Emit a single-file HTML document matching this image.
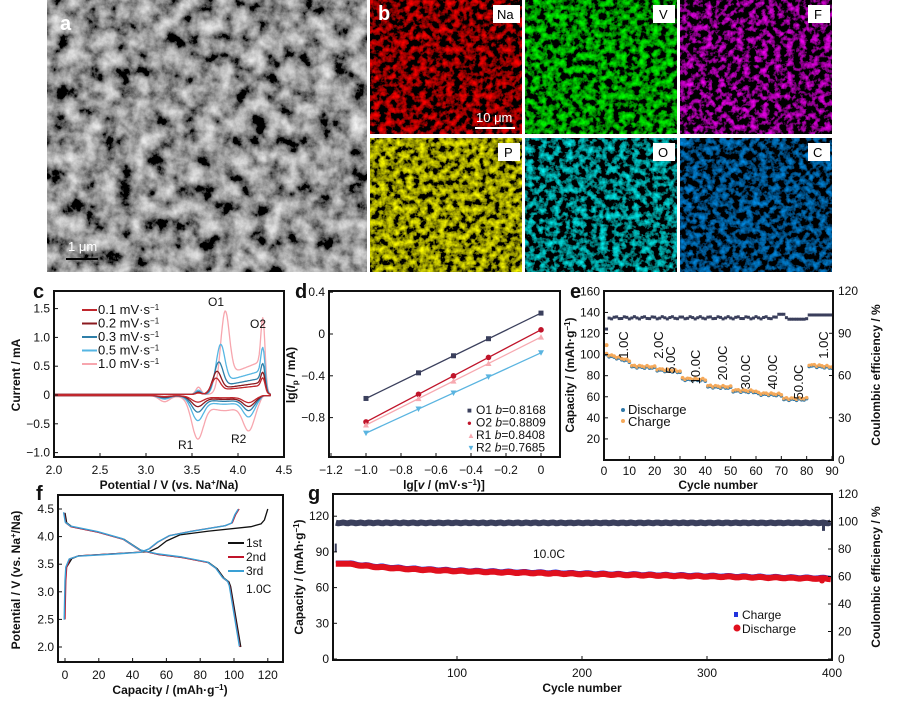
<!DOCTYPE html>
<html><head><meta charset="utf-8"><style>
body{margin:0;background:#fff}
svg{display:block;font-family:"Liberation Sans",Arial,sans-serif}
.t{font-size:12px;fill:#111}
.b{font-weight:bold;font-size:12px;fill:#111}
.L{font-weight:bold;font-size:20px;fill:#111}
</style></head><body>
<svg id="s" width="899" height="710" viewBox="0 0 899 710" xmlns="http://www.w3.org/2000/svg">
<defs>
<filter id="sem" x="0" y="0" width="100%" height="100%">
<feTurbulence type="fractalNoise" baseFrequency="0.06" numOctaves="5" seed="3"/>
<feColorMatrix type="matrix" values="1.4 0 0 0 -0.4  1.4 0 0 0 -0.4  1.4 0 0 0 -0.4  0 0 0 0 1"/>
</filter>
<filter id="fR" x="0" y="0" width="100%" height="100%"><feTurbulence type="fractalNoise" baseFrequency="0.15" numOctaves="3" seed="1"/><feColorMatrix type="matrix" values="2.4 0 0 0 -1.0  0 0 0 0 0  0 0 0 0 0  0 0 0 0 1"/></filter>
<filter id="fG" x="0" y="0" width="100%" height="100%"><feTurbulence type="fractalNoise" baseFrequency="0.15" numOctaves="3" seed="2"/><feColorMatrix type="matrix" values="0 0 0 0 0  2.2 0 0 0 -0.85  0 0 0 0 0  0 0 0 0 1"/></filter>
<filter id="fM" x="0" y="0" width="100%" height="100%"><feTurbulence type="fractalNoise" baseFrequency="0.16" numOctaves="3" seed="4"/><feColorMatrix type="matrix" values="2.2 0 0 0 -1.0  0 0 0 0 0  2.2 0 0 0 -1.0  0 0 0 0 1"/></filter>
<filter id="fY" x="0" y="0" width="100%" height="100%"><feTurbulence type="fractalNoise" baseFrequency="0.15" numOctaves="3" seed="5"/><feColorMatrix type="matrix" values="2.0 0 0 0 -0.7  2.0 0 0 0 -0.7  0 0 0 0 0  0 0 0 0 1"/></filter>
<filter id="fC" x="0" y="0" width="100%" height="100%"><feTurbulence type="fractalNoise" baseFrequency="0.15" numOctaves="3" seed="6"/><feColorMatrix type="matrix" values="0 0 0 0 0  2.0 0 0 0 -0.85  2.0 0 0 0 -0.85  0 0 0 0 1"/></filter>
<filter id="fB" x="0" y="0" width="100%" height="100%"><feTurbulence type="fractalNoise" baseFrequency="0.15" numOctaves="3" seed="7"/><feColorMatrix type="matrix" values="0 0 0 0 0  0.6 0 0 0 -0.25  1.8 0 0 0 -0.75  0 0 0 0 1"/></filter>
</defs>
<rect x="47" y="0" width="320" height="272" filter="url(#sem)"/>
<text x="60" y="30" style="font-weight:bold;font-size:20px;fill:#fff">a</text>
<text x="68" y="251" style="font-size:13px;fill:#fff">1 μm</text>
<line x1="66" y1="259" x2="98" y2="259" stroke="#000" stroke-width="2"/>
<rect x="370" y="0" width="152" height="134" filter="url(#fR)"/>
<rect x="525" y="0" width="152" height="134" filter="url(#fG)"/>
<rect x="680" y="0" width="152" height="134" filter="url(#fM)"/>
<rect x="370" y="138" width="152" height="134" filter="url(#fY)"/>
<rect x="525" y="138" width="152" height="134" filter="url(#fC)"/>
<rect x="680" y="138" width="152" height="134" filter="url(#fB)"/>
<text x="378" y="20" style="font-weight:bold;font-size:20px;fill:#fff">b</text>
<g style="font-size:13px;fill:#000">
<rect x="493" y="5" width="27" height="18" fill="#fff"/><text x="497" y="19">Na</text>
<rect x="653" y="5" width="22" height="18" fill="#fff"/><text x="659" y="19">V</text>
<rect x="808" y="5" width="22" height="18" fill="#fff"/><text x="814" y="19">F</text>
<rect x="498" y="143" width="22" height="18" fill="#fff"/><text x="504" y="157">P</text>
<rect x="653" y="143" width="22" height="18" fill="#fff"/><text x="658" y="157">O</text>
<rect x="808" y="143" width="22" height="18" fill="#fff"/><text x="813" y="157">C</text>
</g>
<text x="476" y="122" style="font-size:13px;fill:#fff">10 μm</text>
<line x1="475" y1="128" x2="515" y2="128" stroke="#fff" stroke-width="2"/>
<g id="gg"></g>
</svg>
<script>
const GG=document.getElementById('gg');let h='';
function T(x,y,s,c,extra){h+=`<text x="${x}" y="${y}" class="${c||'t'}" ${extra||''}>${s}</text>`;}
function L(x1,y1,x2,y2,c,w){h+=`<line x1="${x1}" y1="${y1}" x2="${x2}" y2="${y2}" stroke="${c||'#111'}" stroke-width="${w||1}"/>`;}
function P(pts,c,w){h+=`<polyline fill="none" stroke="${c}" stroke-width="${w||1.2}" stroke-linejoin="round" points="${pts.map(p=>p[0].toFixed(1)+','+p[1].toFixed(1)).join(' ')}"/>`;}
function box(x1,y1,x2,y2){h+=`<rect x="${x1}" y="${y1}" width="${x2-x1}" height="${y2-y1}" fill="none" stroke="#111" stroke-width="2"/>`;}
function ga(v,m,s){const z=(v-m)/s;return Math.exp(-z*z);}
function sg(v,m,s){return 1/(1+Math.exp(-(v-m)/s));}
// ---------- panel c ----------
try{const X=v=>54+(v-2)/2.5*230,Y=i=>395-i*57.6;
 const sets=[[0.3,3.76,0.2,0.13,0.13,'#c0272d',0.12],[0.43,3.77,0.27,0.22,0.2,'#8b1a1f',0.16],[0.6,3.79,0.38,0.33,0.27,'#2f7fa8',0.22],[0.93,3.81,0.6,0.5,0.38,'#56b6e3',0.32],[1.58,3.86,1.1,0.87,0.62,'#f7a6ae',0.45]];
 sets.slice().reverse().forEach(([a1,p1,a2,r1,r2,c,pl])=>{
  let up=[],dn=[];
  for(let v=2.0;v<=4.35;v+=0.01){let env=sg(v,p1-0.08,0.025)*(1-sg(v,4.3,0.012));
   let i=0.01+a1*0.72*ga(v,p1,0.065)+pl*env*(0.85+1.4*(v-3.95))+a2*0.72*ga(v,4.27,0.03)+0.08*a1*ga(v,3.57,0.04);up.push([X(v),Y(i)]);}
  for(let v=4.35;v>=2.0;v-=0.01){let env=(1-sg(v,4.26,0.012));
   let i=-0.01-env*(r1*0.75*ga(v,3.56,0.09)+r2*0.8*ga(v,4.12,0.09)+0.3*r1*ga(v,3.85,0.3)+0.12*r1*ga(v,3.2,0.08));dn.push([X(v),Y(i)]);}
  P(up.concat(dn),c,1.3);
 });
 box(54,291,284,457);
 [2,2.5,3,3.5,4,4.5].forEach(v=>{L(X(v),457,X(v),453);T(X(v),474,v.toFixed(1),'t','text-anchor="middle"');});
 [[1.5,'1.5'],[1,'1.0'],[0.5,'0.5'],[0,'0'],[-0.5,'−0.5'],[-1,'−1.0']].forEach(([v,s])=>{L(54,Y(v),58,Y(v));T(50,Y(v)+4,s,'t','text-anchor="end"');});
 T(169,489,'Potential / V (vs. Na<tspan dy="-4" font-size="8">+</tspan><tspan dy="4">/Na)</tspan>','b','text-anchor="middle"');
 T(0,0,'Current / mA','b','text-anchor="middle" transform="translate(20,375) rotate(-90)"');
 T(33,298,'c','L');
 [['0.1','#c0272d'],['0.2','#8b1a1f'],['0.3','#2f7fa8'],['0.5','#56b6e3'],['1.0','#f7a6ae']].forEach(([s,c],k)=>{let y=314+k*13.5;L(82,y-4,97,y-4,c,2);h+=`<text x="98" y="${y}" style="font-size:13px;fill:#111">${s} mV·s<tspan dy="-4" font-size="8">−1</tspan></text>`;});
 T(208,306,'O1');T(250,328,'O2');T(178,449,'R1');T(231,443,'R2');
}catch(e){}
// ---------- panel d ----------
try{const X=v=>331+(v+1.2)*175,Y=v=>334-v*104.5;
 const S=[[0.8168,0.2,'#3a3f5c','s'],[0.8809,0.04,'#c0142a','c'],[0.8408,-0.03,'#f7a9b0','t'],[0.7685,-0.18,'#5ab4e0','v']];
 S.forEach(([m,b,c,k])=>{P([[X(-1),Y(b-m)],[X(0),Y(b)]],c,1.3);[-1,-0.7,-0.5,-0.3,0].forEach(x=>{let px=X(x),py=Y(m*x+b);
  if(k=='s')h+=`<rect x="${px-2.5}" y="${py-2.5}" width="5" height="5" fill="${c}"/>`;else if(k=='c')h+=`<circle cx="${px}" cy="${py}" r="2.8" fill="${c}"/>`;else if(k=='t')h+=`<path d="M${px} ${py-3}L${px+3} ${py+2.5}L${px-3} ${py+2.5}Z" fill="${c}"/>`;else h+=`<path d="M${px} ${py+3}L${px+3} ${py-2.5}L${px-3} ${py-2.5}Z" fill="${c}"/>`;});});
 box(329,291,560,457);
 [[-1.2,'−1.2'],[-1,'−1.0'],[-0.8,'−0.8'],[-0.6,'−0.6'],[-0.4,'−0.4'],[-0.2,'−0.2'],[0,'0']].forEach(([v,s])=>{L(X(v),457,X(v),453);T(X(v),474,s,'t','text-anchor="middle"');});
 [[0.4,'0.4'],[0,'0'],[-0.4,'−0.4'],[-0.8,'−0.8']].forEach(([v,s])=>{L(329,Y(v),333,Y(v));T(325,Y(v)+4,s,'t','text-anchor="end"');});
 T(444,489,'lg[<tspan font-style="italic">v</tspan> / (mV·s<tspan dy="-4" font-size="8">−1</tspan><tspan dy="4">)]</tspan>','b','text-anchor="middle"');
 T(0,0,'lg(<tspan font-style="italic">I</tspan><tspan dy="3" font-size="8">p</tspan><tspan dy="-3"> / mA)</tspan>','b','text-anchor="middle" transform="translate(295,375) rotate(-90)"');
 T(295,298,'d','L');
 [['■','#3a3f5c','O1','0.8168'],['●','#c0142a','O2','0.8809'],['▲','#f7a9b0','R1','0.8408'],['▼','#5ab4e0','R2','0.7685']].forEach(([mk,c,n,v],k)=>{let y=413+k*12.5;h+=`<text x="467" y="${y}" style="font-size:8px;fill:${c}">${mk}</text>`;T(476,y+1,n+' <tspan font-style="italic">b</tspan>='+v);});
}catch(e){}
// ---------- panel e ----------
try{const X=c=>604+c/90*228,Y=v=>460-v*1.054,YR=v=>460-v*1.408;
 const lv=[[1,10,100,94],[11,20,89,88],[21,30,86,84],[31,40,77,76],[41,50,70,69],[51,60,66,65],[61,70,63,62],[71,80,58,58],[81,90,90,88]];
 let ce='';for(let c=1;c<=90;c++){let v=101+Math.sin(c*1.7)*0.8;if(c>68&&c<72)v=103.5;if(c>72&&c<80)v=100;if(c>80)v=103;if(c==1)v=93;ce+=`<rect x="${X(c)-1.5}" y="${YR(v)-1.5}" width="3" height="3" fill="#3a3f5c"/>`;}
 let dc='';lv.forEach(([a,b,s,e])=>{for(let c=a;c<=b;c++){let v=s+(e-s)*(c-a)/(b-a)+Math.sin(c*2.3)*0.8;dc+=`<circle cx="${X(c)}" cy="${Y(v-0.6)}" r="1.8" fill="#2f78a8"/><circle cx="${X(c)}" cy="${Y(v+0.4)}" r="1.8" fill="#f5a95a"/>`;}});
 h+=ce+dc;h+=`<circle cx="${X(1)}" cy="${Y(109)}" r="2" fill="#f5a95a"/>`;
 box(604,291,833,460);
 [0,10,20,30,40,50,60,70,80,90].forEach(v=>{L(X(v),460,X(v),456);T(X(v),475,v,'t','text-anchor="middle"');});
 [20,40,60,80,100,120,140,160].forEach(v=>{L(604,Y(v),608,Y(v));T(600,Y(v)+4,v,'t','text-anchor="end"');});
 [0,30,60,90,120].forEach(v=>{L(833,YR(v),829,YR(v));T(838,YR(v)+4,v);});
 T(718,489,'Cycle number','b','text-anchor="middle"');
 T(0,0,'Capacity / (mAh·g<tspan dy="-4" font-size="8">−1</tspan><tspan dy="4">)</tspan>','b','text-anchor="middle" transform="translate(574,375) rotate(-90)"');
 T(0,0,'Coulombic efficiency / %','b','text-anchor="middle" transform="translate(880,375) rotate(-90)"');
 T(570,298,'e','L');
 [['1.0C',623,345],['2.0C',658,345],['5.0C',670,360],['10.0C',695,367],['20.0C',722,363],['30.0C',745,372],['40.0C',772,372],['50.0C',798,382],['1.0C',823,345]].forEach(([s,x,y])=>h+=`<text transform="translate(${x+5},${y}) rotate(-90)" text-anchor="middle" style="font-size:13px;fill:#111">${s}</text>`);
 h+=`<circle cx="623" cy="410" r="2" fill="#2f78a8"/><circle cx="623" cy="421" r="2" fill="#f5a95a"/>`;
 h+=`<text x="628" y="414" style="font-size:13px;fill:#111">Discharge</text><text x="628" y="426" style="font-size:13px;fill:#111">Charge</text>`;
}catch(e){}
// ---------- panel f ----------
try{const X=c=>65+c*1.69,Y=v=>647-(v-2)*55.2;
 const ch2=[[0,2.5],[0.5,3.2],[1,3.45],[3,3.6],[8,3.65],[30,3.69],[45,3.72],[50,3.78],[55,3.9],[62,4.02],[75,4.1],[95,4.2],[99,4.25],[101,4.4],[103,4.5]];
 const ch1=[[1,3.45],[4,3.6],[8,3.65],[30,3.69],[50,3.73],[55,3.8],[60,3.92],[68,4.03],[85,4.1],[110,4.18],[116,4.23],[118,4.3],[120,4.5]];
 const dis=[[0,4.43],[1,4.25],[4,4.18],[20,4.08],[35,3.95],[45,3.75],[55,3.68],[70,3.62],[85,3.53],[90,3.42],[94,3.25],[97,3.18],[98,3.1],[104,2.0]];
 const m=a=>a.map(([c,v])=>[X(c),Y(v)]);
 P(m(ch1),'#111',1.3);P(m(dis),'#111',1.3);P(m(ch2),'#c0142a',1.3);P(m(dis.map(([c,v])=>[c-0.5,v])),'#c0142a',1.3);
 P(m(ch2.map(([c,v])=>[c-0.5,v-0.005])),'#3aa0d5',1.4);P(m(dis.map(([c,v])=>[c-0.8,v+0.01])),'#3aa0d5',1.4);
 box(58,495,283,662);
 [0,20,40,60,80,100,120].forEach(v=>{L(X(v),662,X(v),658);T(X(v),679,v,'t','text-anchor="middle"');});
 [2,2.5,3,3.5,4,4.5].forEach(v=>{L(58,Y(v),62,Y(v));T(54,Y(v)+4,v.toFixed(1),'t','text-anchor="end"');});
 T(170,694,'Capacity / (mAh·g<tspan dy="-4" font-size="8">−1</tspan><tspan dy="4">)</tspan>','b','text-anchor="middle"');
 T(0,0,'Potential / V (vs. Na<tspan dy="-4" font-size="8">+</tspan><tspan dy="4">/Na)</tspan>','b','text-anchor="middle" transform="translate(20,580) rotate(-90)"');
 T(36,500,'f','L');
 [['1st','#111'],['2nd','#c0142a'],['3rd','#3aa0d5']].forEach(([s,c],k)=>{let y=547+k*14;L(228,y-4,244,y-4,c,2);T(246,y,s);});
 T(246,593,'1.0C');
}catch(e){}
// ---------- panel g ----------
try{const X=c=>332+c*1.25,Y=v=>659-v*1.19,YR=v=>659-v*1.375;
 let ce=[],ch=[],ds=[];for(let c=3;c<=400;c+=2){ce.push([X(c),YR(99+Math.sin(c*0.9)*0.3)]);let v=82-12*(1-Math.exp(-c/40))*0.55-0.02*c+Math.sin(c*0.5)*0.4;if(c<12)v=80;ds.push([X(c),Y(v)]);ch.push([X(c),Y(v+1.8)]);}
 P(ce,'#3a3f5c',6);P(ch,'#2233dd',2.5);P(ds,'#e0101e',6);
 h+=`<rect x="${X(3)-1}" y="${Y(97)}" width="2" height="8" fill="#3a3f5c"/><rect x="${X(392)}" y="${YR(99)}" width="3" height="8" fill="#3a3f5c"/><circle cx="${X(392)}" cy="${Y(66)}" r="3" fill="#e0101e"/>`;
 box(333,494,832,660);
 [[100,'100'],[200,'200'],[300,'300'],[400,'400']].forEach(([v,s])=>{L(X(v),660,X(v),656);T(X(v),677,s,'t','text-anchor="middle"');});
 [0,30,60,90,120].forEach(v=>{L(333,Y(v),337,Y(v));T(329,Y(v)+4,v,'t','text-anchor="end"');});
 [0,20,40,60,80,100,120].forEach(v=>{L(832,YR(v),828,YR(v));T(838,YR(v)+4,v);});
 T(582,692,'Cycle number','b','text-anchor="middle"');
 T(0,0,'Capacity / (mAh·g<tspan dy="-4" font-size="8">−1</tspan><tspan dy="4">)</tspan>','b','text-anchor="middle" transform="translate(303,577) rotate(-90)"');
 T(0,0,'Coulombic efficiency / %','b','text-anchor="middle" transform="translate(880,577) rotate(-90)"');
 T(308,500,'g','L');
 T(533,558,'10.0C');
 h+=`<rect x="734" y="612" width="4" height="5" fill="#2233dd"/><circle cx="737" cy="628" r="3.5" fill="#e0101e"/>`;T(742,619,'Charge');T(742,633,'Discharge');
}catch(e){}
GG.innerHTML=h;
</script>
</body></html>
